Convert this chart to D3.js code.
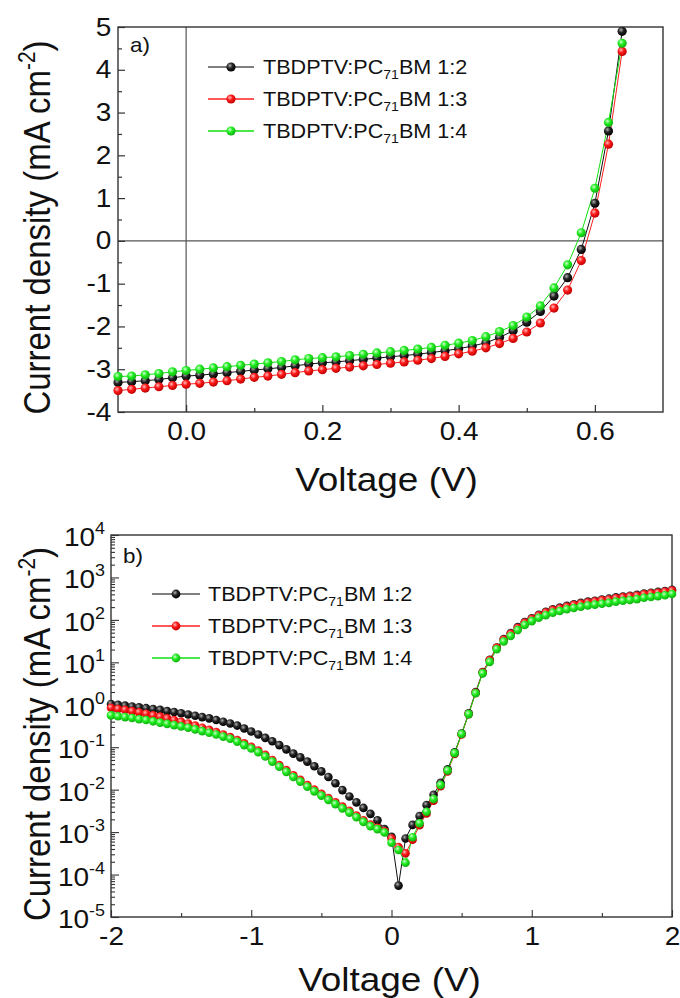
<!DOCTYPE html>
<html><head><meta charset="utf-8">
<script src="https://cdn.jsdelivr.net/npm/d3@7"></script>
<style>
body{margin:0;background:#fff;}
svg text{font-family:"Liberation Sans",Arial,sans-serif;fill:#111;}
</style>
</head><body>
<svg id="chart" width="680" height="998"></svg>
<script>
// ---------- DATA ----------
const seriesRatios = ["1:2", "1:3", "1:4"];

// (a) J-V under illumination, Voltage (V) vs current density (mA cm^-2)
const topVoltage = [-0.10,-0.08,-0.06,-0.04,-0.02,0.00,0.02,0.04,0.06,0.08,0.10,0.12,0.14,0.16,0.18,0.20,0.22,0.24,0.26,0.28,0.30,0.32,0.34,0.36,0.38,0.40,0.42,0.44,0.46,0.48,0.50,0.52,0.54,0.56,0.58,0.60,0.62,0.64];
const topJ12 = [-3.31,-3.29,-3.27,-3.24,-3.20,-3.16,-3.14,-3.11,-3.08,-3.05,-3.02,-2.99,-2.96,-2.92,-2.88,-2.85,-2.83,-2.80,-2.77,-2.74,-2.71,-2.68,-2.65,-2.61,-2.57,-2.52,-2.46,-2.38,-2.26,-2.10,-1.90,-1.65,-1.29,-0.86,-0.20,0.88,2.57,4.90];
const topJ13 = [-3.50,-3.47,-3.44,-3.41,-3.38,-3.35,-3.33,-3.30,-3.27,-3.23,-3.19,-3.16,-3.12,-3.08,-3.04,-3.01,-2.98,-2.95,-2.92,-2.89,-2.86,-2.83,-2.79,-2.75,-2.70,-2.64,-2.58,-2.50,-2.40,-2.28,-2.13,-1.92,-1.57,-1.15,-0.46,0.65,2.26,4.43];
const topJ14 = [-3.17,-3.16,-3.13,-3.10,-3.06,-3.03,-3.00,-2.97,-2.94,-2.91,-2.88,-2.85,-2.82,-2.78,-2.75,-2.73,-2.71,-2.68,-2.65,-2.62,-2.59,-2.56,-2.53,-2.49,-2.44,-2.39,-2.33,-2.24,-2.12,-1.98,-1.78,-1.52,-1.10,-0.56,0.19,1.23,2.77,4.62];
const topXTicks = [0.0, 0.2, 0.4, 0.6];
const topXTickLabels = ["0.0", "0.2", "0.4", "0.6"];
const topXMinor = [0.1, 0.3, 0.5];
const topYTicks = [-4, -3, -2, -1, 0, 1, 2, 3, 4, 5];
const topYMinor = [-3.5, -2.5, -1.5, -0.5, 0.5, 1.5, 2.5, 3.5, 4.5];

// (b) |J|-V, log10 of current density (mA cm^-2)
const botVoltage = [-2.00,-1.95,-1.90,-1.85,-1.80,-1.75,-1.70,-1.65,-1.60,-1.55,-1.50,-1.45,-1.40,-1.35,-1.30,-1.25,-1.20,-1.15,-1.10,-1.05,-1.00,-0.95,-0.90,-0.85,-0.80,-0.75,-0.70,-0.65,-0.60,-0.55,-0.50,-0.45,-0.40,-0.35,-0.30,-0.25,-0.20,-0.15,-0.10,-0.05,0.00,0.05,0.10,0.15,0.20,0.25,0.30,0.35,0.40,0.45,0.50,0.55,0.60,0.65,0.70,0.75,0.80,0.85,0.90,0.95,1.00,1.05,1.10,1.15,1.20,1.25,1.30,1.35,1.40,1.45,1.50,1.55,1.60,1.65,1.70,1.75,1.80,1.85,1.90,1.95,2.00];
const botLogJ12 = [0.02,0.00,-0.02,-0.04,-0.06,-0.08,-0.10,-0.12,-0.15,-0.17,-0.20,-0.23,-0.26,-0.29,-0.32,-0.36,-0.40,-0.44,-0.49,-0.56,-0.63,-0.70,-0.78,-0.86,-0.95,-1.05,-1.15,-1.24,-1.34,-1.45,-1.57,-1.70,-1.85,-2.01,-2.16,-2.30,-2.43,-2.57,-2.72,-2.93,-3.11,-4.26,-3.15,-2.83,-2.62,-2.36,-2.12,-1.84,-1.52,-1.12,-0.68,-0.20,0.30,0.77,1.06,1.35,1.55,1.69,1.83,1.95,2.04,2.12,2.19,2.25,2.29,2.33,2.37,2.40,2.43,2.45,2.48,2.50,2.53,2.55,2.57,2.59,2.62,2.64,2.66,2.68,2.71];
const botLogJ13 = [-0.07,-0.10,-0.12,-0.15,-0.18,-0.21,-0.25,-0.28,-0.32,-0.36,-0.40,-0.44,-0.49,-0.54,-0.59,-0.64,-0.70,-0.76,-0.83,-0.91,-0.99,-1.08,-1.18,-1.30,-1.42,-1.54,-1.66,-1.77,-1.89,-2.00,-2.10,-2.20,-2.30,-2.40,-2.50,-2.61,-2.72,-2.82,-2.90,-2.98,-3.15,-3.35,-3.50,-3.18,-2.84,-2.56,-2.26,-1.92,-1.57,-1.16,-0.70,-0.22,0.28,0.76,1.05,1.34,1.53,1.67,1.81,1.93,2.02,2.10,2.17,2.23,2.27,2.31,2.35,2.38,2.41,2.43,2.46,2.48,2.51,2.53,2.55,2.57,2.60,2.62,2.64,2.66,2.69];
const botLogJ14 = [-0.25,-0.27,-0.29,-0.31,-0.34,-0.36,-0.39,-0.42,-0.45,-0.48,-0.51,-0.54,-0.58,-0.62,-0.66,-0.70,-0.75,-0.80,-0.87,-0.95,-1.03,-1.12,-1.22,-1.34,-1.46,-1.58,-1.70,-1.81,-1.93,-2.04,-2.14,-2.24,-2.34,-2.44,-2.54,-2.65,-2.76,-2.86,-2.93,-3.01,-3.25,-3.42,-3.72,-3.12,-2.79,-2.52,-2.22,-1.89,-1.55,-1.14,-0.69,-0.22,0.27,0.74,1.01,1.31,1.49,1.62,1.76,1.88,1.97,2.05,2.11,2.17,2.21,2.25,2.28,2.31,2.34,2.36,2.38,2.40,2.43,2.45,2.47,2.49,2.52,2.54,2.56,2.58,2.61];
const botXTicks = [-2, -1, 0, 1, 2];
const botXMinor = [-1.5, -0.5, 0.5, 1.5];
const botYExponents = [-5, -4, -3, -2, -1, 0, 1, 2, 3, 4];

// ---------- STYLE ----------
const colors = [
  {line:"#111", legendLine:"#555", hi:"#b0b0b0", base:"#262626", edge:"#000"},
  {line:"#ff2020", legendLine:"#ff2020", hi:"#ffc0c0", base:"#ff1a1a", edge:"#c00000"},
  {line:"#10e010", legendLine:"#10e010", hi:"#d0ffd0", base:"#22ee22", edge:"#10b010"}
];
const FONT_TICK = 25, FONT_TITLE = 33, FONT_LEG = 20;
const SX = 1.12;      // horizontal glyph stretch seen in the reference
const SX_LEG = 1.08;

const svg = d3.select("#chart");
const defs = svg.append("defs");
colors.forEach((c, i) => {
  const g = defs.append("radialGradient").attr("id", "ball" + i)
    .attr("cx", "38%").attr("cy", "35%").attr("r", "65%");
  g.append("stop").attr("offset", "0%").attr("stop-color", c.hi);
  g.append("stop").attr("offset", "45%").attr("stop-color", c.base);
  g.append("stop").attr("offset", "100%").attr("stop-color", c.edge);
});

function legendText(sel, ratio) {
  sel.append("tspan").text("TBDPTV:PC");
  sel.append("tspan").attr("font-size", 13).attr("dy", 5).text("71");
  sel.append("tspan").attr("dy", -5).text("BM " + ratio);
}

function drawLegend(g, x0, x1, xm, xt, rows, r) {
  rows.forEach((y, i) => {
    g.append("line").attr("x1", x0).attr("x2", x1).attr("y1", y).attr("y2", y)
      .attr("stroke", colors[i].legendLine).attr("stroke-width", 1.3);
    g.append("circle").attr("cx", xm).attr("cy", y).attr("r", r).attr("fill", "url(#ball" + i + ")");
    const t = g.append("text").attr("transform", `translate(${xt},${y + 7}) scale(${SX_LEG},1)`)
      .attr("font-size", FONT_LEG);
    legendText(t, seriesRatios[i]);
  });
}

function styleTicks(g) {
  g.selectAll(".domain").remove();
  g.selectAll(".tick line").attr("stroke", "#333").attr("stroke-width", 1.2);
  g.selectAll(".tick text").attr("font-size", FONT_TICK).attr("fill", "#111")
    .attr("transform", `scale(${SX},1)`)
    .style("font-family", '"Liberation Sans",Arial,sans-serif');
  g.selectAll(".tick text").each(function(){ const t = d3.select(this); t.text(t.text().replace("\u2212", "-")); });
}

function yTitle(g, cx, cy) {
  const yt = g.append("text").attr("transform", `translate(${cx},${cy}) scale(${SX},1) rotate(-90)`)
    .attr("text-anchor", "middle").attr("font-size", FONT_TITLE);
  yt.append("tspan").text("Current density (mA cm");
  yt.append("tspan").attr("font-size", 21).attr("dy", -13).text("-2");
  yt.append("tspan").attr("dy", 13).text(")");
}

// ---------- TOP CHART ----------
(function(){
  const L = 118, R = 663, T = 27, B = 412;
  const x = d3.scaleLinear().domain([-0.1, 0.7]).range([L, R]);
  const y = d3.scaleLinear().domain([-4, 5]).range([B, T]);
  const g = svg.append("g");

  g.append("line").attr("x1", x(0)).attr("x2", x(0)).attr("y1", T).attr("y2", B)
    .attr("stroke", "#555").attr("stroke-width", 1.2);
  g.append("line").attr("x1", L).attr("x2", R).attr("y1", y(0)).attr("y2", y(0))
    .attr("stroke", "#555").attr("stroke-width", 1.2);

  g.append("g").attr("transform", `translate(0,${B})`)
    .call(d3.axisBottom(x).tickValues(topXTicks).tickFormat((d, i) => topXTickLabels[i])
      .tickSizeInner(-7).tickSizeOuter(0).tickPadding(10));
  g.append("g").attr("transform", `translate(0,${B})`)
    .call(d3.axisBottom(x).tickValues(topXMinor).tickFormat("").tickSizeInner(-4).tickSizeOuter(0));
  g.append("g").attr("transform", `translate(${L},0)`)
    .call(d3.axisLeft(y).tickValues(topYTicks).tickFormat(d3.format("d"))
      .tickSizeInner(-7).tickSizeOuter(0).tickPadding(6));
  g.append("g").attr("transform", `translate(${L},0)`)
    .call(d3.axisLeft(y).tickValues(topYMinor).tickFormat("").tickSizeInner(-4).tickSizeOuter(0));
  styleTicks(g);

  g.append("rect").attr("x", L).attr("y", T).attr("width", R - L).attr("height", B - T)
    .attr("fill", "none").attr("stroke", "#333").attr("stroke-width", 1.4);

  const series = [topJ12, topJ13, topJ14];
  series.forEach((vals, i) => {
    const pts = topVoltage.map((v, k) => [v, vals[k]]);
    g.append("path").datum(pts)
      .attr("d", d3.line().x(d => x(d[0])).y(d => y(d[1])))
      .attr("fill", "none").attr("stroke", colors[i].line).attr("stroke-width", 1);
  });
  series.forEach((vals, i) => {
    g.append("g").selectAll("circle").data(topVoltage.map((v, k) => [v, vals[k]])).join("circle")
      .attr("cx", d => x(d[0])).attr("cy", d => y(d[1])).attr("r", 4.6)
      .attr("fill", "url(#ball" + i + ")");
  });

  g.append("text").attr("transform", `translate(130,52) scale(${SX},1)`).attr("font-size", 20).text("a)");
  drawLegend(g, 208, 254, 231, 263, [67, 99, 131], 4.6);

  g.append("text").attr("transform", `translate(${x(0.3) - 4},491) scale(${SX},1)`).attr("text-anchor", "middle")
    .attr("font-size", FONT_TITLE).text("Voltage (V)");
  yTitle(g, 50, (T + B) / 2 + 8);
})();

// ---------- BOTTOM CHART ----------
(function(){
  const L = 111, R = 672, T = 535, B = 917;
  const x = d3.scaleLinear().domain([-2, 2]).range([L, R]);
  const y = d3.scaleLog().domain([1e-5, 1e4]).range([B, T]);
  const g = svg.append("g");

  g.append("g").attr("transform", `translate(0,${B})`)
    .call(d3.axisBottom(x).tickValues(botXTicks).tickFormat(d => d < 0 ? "-" + Math.abs(d) : String(d))
      .tickSizeInner(-7).tickSizeOuter(0).tickPadding(10));
  g.append("g").attr("transform", `translate(0,${B})`)
    .call(d3.axisBottom(x).tickValues(botXMinor).tickFormat("").tickSizeInner(-4).tickSizeOuter(0));

  const majorVals = botYExponents.map(e => Math.pow(10, e));
  const minorVals = [];
  botYExponents.slice(0, -1).forEach(e => { for (let m = 2; m <= 9; m++) minorVals.push(m * Math.pow(10, e)); });
  g.append("g").attr("transform", `translate(${L},0)`)
    .call(d3.axisLeft(y).tickValues(majorVals).tickFormat("").tickSizeInner(-8).tickSizeOuter(0));
  g.append("g").attr("transform", `translate(${L},0)`)
    .call(d3.axisLeft(y).tickValues(minorVals).tickFormat("").tickSizeInner(-4).tickSizeOuter(0));
  styleTicks(g);
  g.selectAll(".tick line").attr("stroke-width", 1.1);

  botYExponents.forEach((e, i) => {
    const yy = y(majorVals[i]);
    const t = g.append("text").attr("transform", `translate(105,${yy + 11}) scale(${SX},1)`)
      .attr("text-anchor", "end").attr("font-size", FONT_TICK);
    t.append("tspan").text("10");
    t.append("tspan").attr("font-size", 16).attr("dy", -12).text(String(e));
  });

  g.append("rect").attr("x", L).attr("y", T).attr("width", R - L).attr("height", B - T)
    .attr("fill", "none").attr("stroke", "#333").attr("stroke-width", 1.4);

  const series = [botLogJ12, botLogJ13, botLogJ14];
  series.forEach((vals, i) => {
    const pts = botVoltage.map((v, k) => [v, Math.pow(10, vals[k])]);
    g.append("path").datum(pts)
      .attr("d", d3.line().x(d => x(d[0])).y(d => y(d[1])))
      .attr("fill", "none").attr("stroke", colors[i].line).attr("stroke-width", 1);
  });
  series.forEach((vals, i) => {
    g.append("g").selectAll("circle").data(botVoltage.map((v, k) => [v, Math.pow(10, vals[k])])).join("circle")
      .attr("cx", d => x(d[0])).attr("cy", d => y(d[1])).attr("r", 4.3)
      .attr("fill", "url(#ball" + i + ")");
  });

  g.append("text").attr("transform", `translate(123,563) scale(${SX},1)`).attr("font-size", 20).text("b)");
  drawLegend(g, 152, 200, 176, 208, [594, 626, 658], 4.4);

  g.append("text").attr("transform", `translate(${x(0) - 2},991) scale(${SX},1)`).attr("text-anchor", "middle")
    .attr("font-size", FONT_TITLE).text("Voltage (V)");
  yTitle(g, 50, (T + B) / 2 + 8);
})();
</script>
</body></html>
